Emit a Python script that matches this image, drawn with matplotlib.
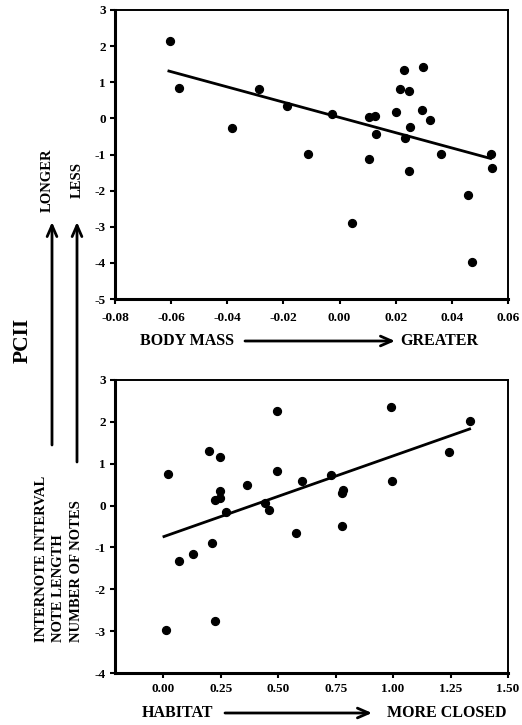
import matplotlib.pyplot as plt
from matplotlib.ticker import FormatStrFormatter

plt.rcParams['font.family'] = 'Liberation Serif'
plt.rcParams['font.weight'] = 'bold'
plt.rcParams['axes.unicode_minus'] = False

# valores
massa_x = [-0.0604, -0.0571, -0.0384, -0.0286, -0.0187, -0.0113, -0.0028, 0.0043,
           0.0106, 0.0105, 0.0126, 0.0130, 0.0201, 0.0214, 0.0230, 0.0233, 0.0246,
           0.0249, 0.0252, 0.0293, 0.0297, 0.0322, 0.0360, 0.0456, 0.0471, 0.0538,
           0.0543]
massa_y = [2.14, 0.85, -0.28, 0.82, 0.33, -0.99, 0.12, -2.90,
           -1.13, 0.05, 0.06, -0.42, 0.18, 0.80, 1.33, -0.53, -1.46,
           0.75, -0.25, 0.22, 1.42, -0.04, -0.98, -2.13, -3.97, -0.99,
           -1.38]
massa_reta_x = [-0.0608, 0.0538]
massa_reta_y = [1.31, -1.11]

habitat_x = [0.020, 0.010, 0.068, 0.128, 0.201, 0.211, 0.223, 0.227, 0.246, 0.246,
             0.249, 0.274, 0.363, 0.444, 0.460, 0.494, 0.496, 0.578, 0.602, 0.730,
             0.784, 0.777, 0.776, 0.993, 0.994, 1.243, 1.333]
habitat_y = [0.75, -2.98, -1.32, -1.15, 1.31, -0.89, -2.75, 0.13, 1.17, 0.34,
             0.19, -0.15, 0.49, 0.06, -0.11, 2.26, 0.83, -0.65, 0.59, 0.74,
             0.37, 0.29, -0.48, 2.35, 0.59, 1.29, 2.02]
habitat_reta_x = [0.003, 1.333]
habitat_reta_y = [-0.74, 1.83]

massa_ticks = [-0.08, -0.06, -0.04, -0.02, 0.00, 0.02, 0.04, 0.06]
habitat_ticks = [0.00, 0.25, 0.50, 0.75, 1.00, 1.25, 1.50]

W, H = 522, 725


def estilo(ax, pad_x):
    for lado in ['left', 'bottom']:
        ax.spines[lado].set_linewidth(2.2)
    for lado in ['right', 'top']:
        ax.spines[lado].set_linewidth(1.4)
    ax.tick_params(direction='out', length=3.5, width=1.5, labelsize=9.5)
    ax.tick_params(axis='x', pad=pad_x)
    ax.tick_params(axis='y', pad=3)
    ax.xaxis.set_major_formatter(FormatStrFormatter('%.2f'))
    ax.yaxis.set_major_formatter(FormatStrFormatter('%d'))


fig = plt.figure(figsize=(W / 100, H / 100), dpi=100)

# grafico de cima - massa corporal
ax1 = fig.add_axes([115 / W, 1 - 299 / H, 393 / W, 289 / H])
ax1.scatter(massa_x, massa_y, s=32, color='black', zorder=3)
ax1.plot(massa_reta_x, massa_reta_y, color='black', lw=2)
ax1.set_xlim(-0.08, 0.06)
ax1.set_ylim(-5, 3)
ax1.set_xticks(massa_ticks)
ax1.set_yticks(range(-5, 4))
estilo(ax1, 6)

# grafico de baixo - habitat
ax2 = fig.add_axes([115 / W, 1 - 673 / H, 393 / W, 293 / H])
ax2.scatter(habitat_x, habitat_y, s=32, color='black', zorder=3)
ax2.plot(habitat_reta_x, habitat_reta_y, color='black', lw=2)
ax2.set_xlim(-0.21, 1.5)
ax2.set_ylim(-4, 3)
ax2.set_xticks(habitat_ticks)
ax2.set_yticks(range(-4, 4))
estilo(ax2, 4)


def texto(x, y, s, **kw):
    fig.text(x / W, 1 - y / H, s, fontweight='bold', **kw)


def seta(x0, y0, x1, y1):
    ax1.annotate('', xy=(x1, H - y1), xytext=(x0, H - y0), xycoords='figure pixels',
                 textcoords='figure pixels',
                 arrowprops=dict(arrowstyle='->,head_length=0.8,head_width=0.35',
                                 lw=2, color='black', shrinkA=0, shrinkB=0),
                 annotation_clip=False)


# rotulos dos eixos x
texto(140, 341, 'BODY MASS', fontsize=11.5, va='center', ha='left')
seta(245, 341, 395, 341)
texto(400, 341, 'GREATER', fontsize=11.5, va='center', ha='left')

texto(142, 713, 'HABITAT', fontsize=11.5, va='center', ha='left')
seta(225, 713, 372, 713)
texto(387, 713, 'MORE CLOSED', fontsize=11.5, va='center', ha='left')

# rotulos do eixo y
texto(23, 340, 'PCII', fontsize=15.5, rotation=90, va='center', ha='center')
texto(42, 642, 'INTERNOTE INTERVAL', fontsize=10.5, rotation=90, va='bottom', ha='center')
texto(59, 642, 'NOTE LENGTH', fontsize=10.5, rotation=90, va='bottom', ha='center')
texto(77, 642, 'NUMBER OF NOTES', fontsize=10.5, rotation=90, va='bottom', ha='center')
seta(52, 445, 52, 222)
seta(77, 462, 77, 222)
texto(47, 148, 'LONGER', fontsize=10.5, rotation=90, va='top', ha='center')
texto(77, 162, 'LESS', fontsize=10.5, rotation=90, va='top', ha='center')

fig.savefig('out.png', dpi=100)
